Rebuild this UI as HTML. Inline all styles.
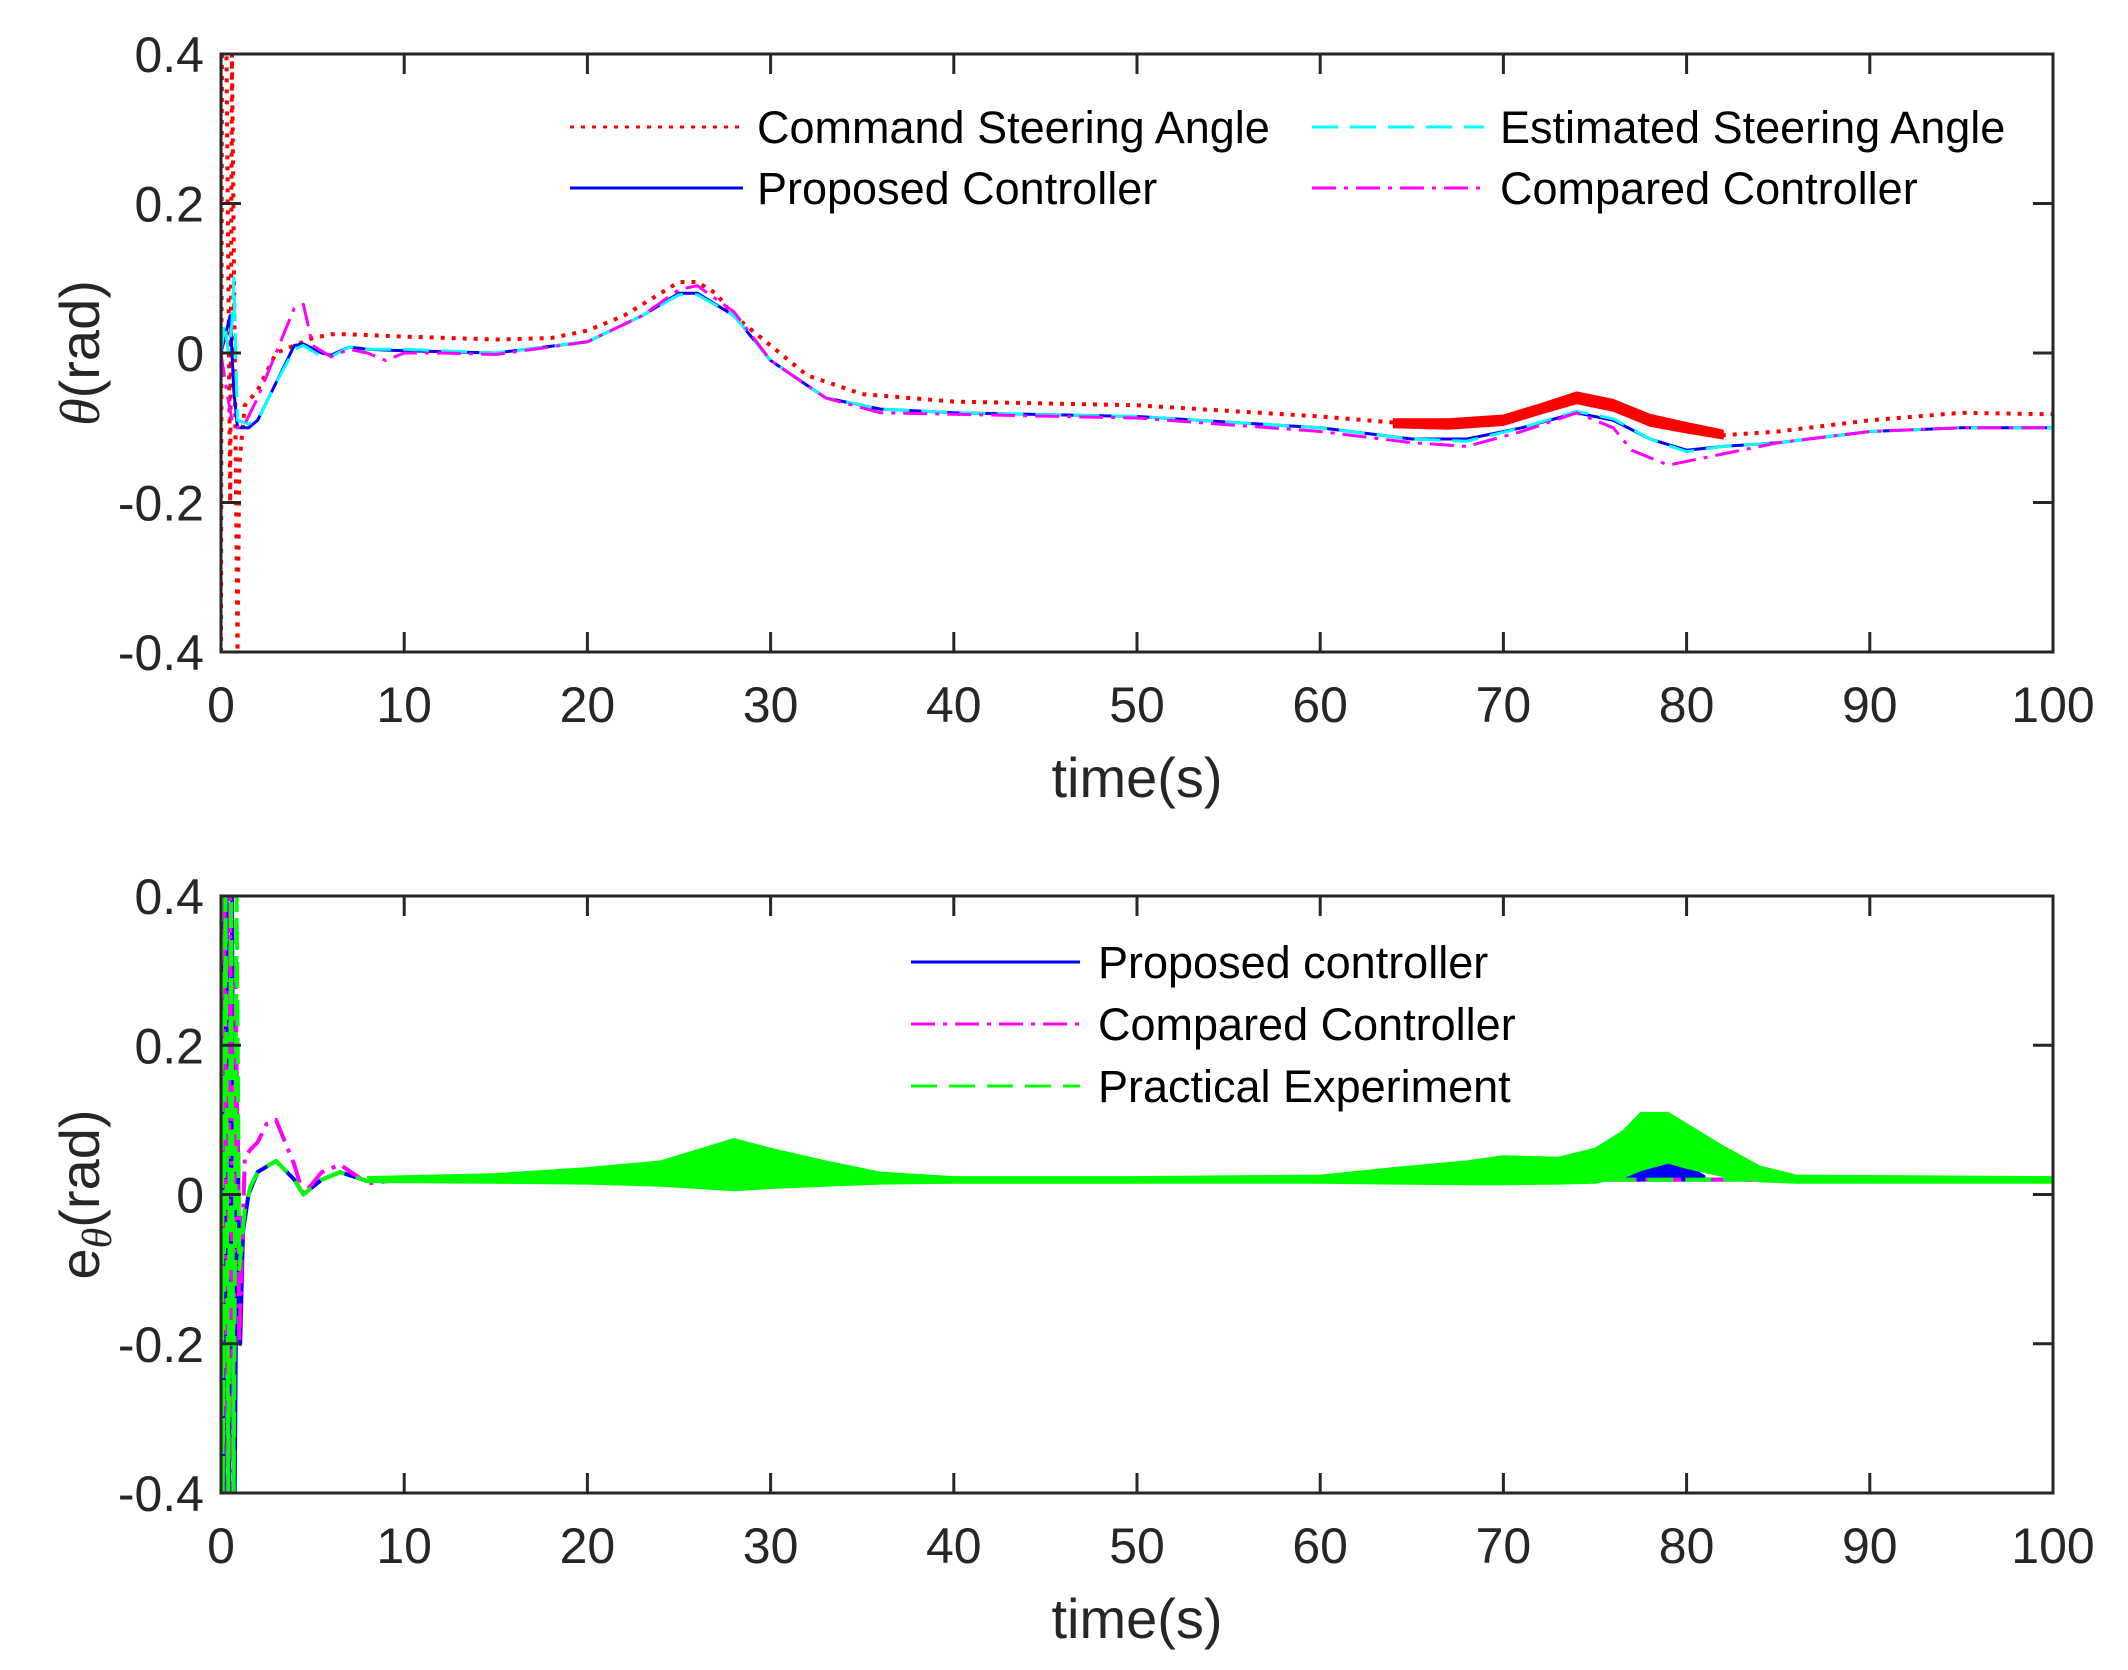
<!DOCTYPE html>
<html><head><meta charset="utf-8"><style>
html,body{margin:0;padding:0;background:#fff;}
svg{display:block;font-family:"Liberation Sans",sans-serif;}
</style></head><body>
<svg id="fig" width="2128" height="1670" viewBox="0 0 2128 1670" xmlns="http://www.w3.org/2000/svg">
<defs>
<clipPath id="clipTop"><rect x="221" y="54" width="1832" height="598"/></clipPath>
<clipPath id="clipBot"><rect x="221" y="896" width="1832" height="597"/></clipPath>
</defs>
<g id="top"></g>
<g id="bot"></g>
</svg>
<script>
// ---- data: top chart ----
const xTicks = [0,10,20,30,40,50,60,70,80,90,100];
const yTicks = [-0.4,-0.2,0,0.2,0.4];
const yTickLabels = ["-0.4","-0.2","0","0.2","0.4"];
const cmdT = [0,0.05,0.3,0.5,0.6,0.9,1.0,1.3,2,3,4,5,6,7,10,15,18,20,22,24,25,26,27,28,30,32,35,40,50,60,65,70,72,74,76,78,80,82,85,90,95,100];
const cmdV = [-0.4,0.4,0.4,-0.2,0.4,-0.4,-0.15,-0.07,-0.05,0,0.01,0.02,0.025,0.025,0.022,0.018,0.02,0.03,0.05,0.08,0.095,0.095,0.08,0.05,0.01,-0.03,-0.055,-0.065,-0.07,-0.085,-0.095,-0.09,-0.075,-0.06,-0.07,-0.09,-0.1,-0.11,-0.105,-0.09,-0.08,-0.082];
const cmdBandT = [64,67,70,72,74,76,78,80,82];
const cmdBandHi = [-0.088,-0.088,-0.083,-0.068,-0.052,-0.062,-0.082,-0.093,-0.103];
const cmdBandLo = [-0.1,-0.102,-0.097,-0.082,-0.068,-0.078,-0.098,-0.107,-0.115];
const propT = [0,0.3,0.5,0.7,0.9,1.5,2,3,4,4.5,5.5,6,7,8,10,15,20,23,25,26,28,30,33,36,40,50,60,65,68,71,74,76,78,80,82,85,90,95,100];
const propV = [0,0.03,0.05,-0.05,-0.1,-0.1,-0.09,-0.04,0.01,0.012,0,-0.003,0.008,0.005,0.003,0,0.015,0.05,0.08,0.08,0.05,-0.01,-0.06,-0.075,-0.08,-0.085,-0.1,-0.115,-0.115,-0.1,-0.08,-0.09,-0.115,-0.13,-0.125,-0.12,-0.105,-0.1,-0.1];
const estT = [0,0.2,0.4,0.6,0.7,0.9,1.5,2,3,4,4.5,5.5,6,7,8,10,15,20,23,25,26,28,30,33,36,40,50,60,65,68,71,74,76,78,80,82,85,90,95,100];
const estV = [0,0.04,0.0,0.04,0.1,-0.09,-0.095,-0.09,-0.04,0.005,0.01,-0.005,-0.005,0.008,0.005,0.005,0,0.015,0.05,0.078,0.078,0.05,-0.01,-0.06,-0.075,-0.08,-0.085,-0.1,-0.115,-0.118,-0.1,-0.078,-0.088,-0.115,-0.132,-0.125,-0.12,-0.105,-0.1,-0.1];
const cmpT = [0,0.3,0.6,0.9,1.3,2,3,4,4.5,5,6,7,8,9,10,12,15,20,23,25,26,28,30,33,36,40,50,60,65,68,71,74,76,77,79,82,85,90,95,100];
const cmpV = [0,-0.05,-0.09,-0.1,-0.095,-0.06,0.0,0.06,0.065,0.01,-0.005,0.005,0.0,-0.01,0.0,0.0,-0.002,0.015,0.05,0.085,0.09,0.055,-0.01,-0.06,-0.08,-0.082,-0.087,-0.105,-0.12,-0.125,-0.105,-0.08,-0.1,-0.13,-0.15,-0.135,-0.12,-0.105,-0.1,-0.1];
// ---- data: bottom chart ----
const eBlueT = [0,0.15,0.3,0.45,0.6,0.75,0.9,1.05,1.2,1.5,2,3,4,4.5,5.5,6.5,8,10,100];
const eBlueV = [0.4,-0.4,0.4,-0.4,0.4,-0.4,0.1,-0.2,-0.05,0.0,0.03,0.045,0.02,0.0,0.02,0.03,0.018,0.02,0.02];
const eBlueBandT = [76.5,77.5,79,80,81];
const eBlueBandHi = [0.03,0.04,0.045,0.04,0.025];
const eBlueBandLo = [0.018,0.02,0.022,0.02,0.018];
const eCmpT = [0,0.2,0.35,0.5,0.65,0.8,1.0,1.3,1.6,2,2.5,3,4,4.5,5.5,6.5,8,10,100];
const eCmpV = [-0.4,0.4,-0.4,0.4,-0.4,0.3,-0.2,0.05,0.06,0.07,0.095,0.1,0.04,0.0,0.03,0.04,0.015,0.02,0.02];
const eGrnT = [0,0.1,0.25,0.4,0.55,0.7,0.85,1.0,1.3,1.6,2,3,4,4.5,5.5,6.5,8,10,100];
const eGrnV = [0.4,-0.4,0.4,-0.4,0.4,-0.4,0.4,-0.1,-0.02,0.01,0.03,0.045,0.02,0.0,0.02,0.03,0.018,0.02,0.02];
const eGrnBandT = [8,15,20,24,26,28,30,33,36,40,50,60,64,68,70,73,75,76.5,77.5,79,80,82,84,86,100];
const eGrnBandHi = [0.024,0.028,0.036,0.045,0.06,0.075,0.062,0.045,0.03,0.024,0.024,0.026,0.036,0.045,0.052,0.05,0.062,0.085,0.11,0.11,0.095,0.065,0.038,0.026,0.024];
const eGrnBandLo = [0.016,0.015,0.014,0.011,0.008,0.005,0.008,0.011,0.014,0.015,0.015,0.015,0.014,0.013,0.013,0.014,0.015,0.022,0.032,0.042,0.035,0.024,0.017,0.015,0.015];

const NS = "http://www.w3.org/2000/svg";
const X0=221, X1=2053;
function xS(t){return X0+(t/100)*(X1-X0);}
function mkY(top,bot){return v=>(top+bot)/2 - v*(bot-top)/0.8;}
const TT=54, TB=652, BT=896, BB=1493;
const yTop = mkY(TT,TB), yBot = mkY(BT,BB);
function el(tag, attrs, parent){const e=document.createElementNS(NS,tag);for(const k in attrs)e.setAttribute(k,attrs[k]);parent.appendChild(e);return e;}
function pts(T,V,yf){return T.map((t,i)=>xS(t).toFixed(1)+","+yf(V[i]).toFixed(1)).join(" ");}
function band(T,H,L,yf){return pts(T,H,yf)+" "+pts(T.slice().reverse(),L.slice().reverse(),yf);}

function axes(g, top, bot, yf, ylabel){
  const fr = el("rect",{x:X0,y:top,width:X1-X0,height:bot-top,fill:"none",stroke:"#262626","stroke-width":3},g);
  
  
  xTicks.forEach(t=>{
    const x=xS(t);
    const a=el("line",{x1:x,y1:bot,x2:x,y2:bot-20,stroke:"#262626","stroke-width":3},g);
    
    
    const b=el("line",{x1:x,y1:top,x2:x,y2:top+20,stroke:"#262626","stroke-width":3},g);
    
    
    const tx=el("text",{x:x,y:bot+70,"font-size":50,"text-anchor":"middle",fill:"#262626"},g);
    tx.textContent=String(t);
    
    
  });
  yTicks.forEach((v,i)=>{
    const y=yf(v);
    const a=el("line",{x1:X0,y1:y,x2:X0+20,y2:y,stroke:"#262626","stroke-width":3},g);
    
    
    const b=el("line",{x1:X1,y1:y,x2:X1-20,y2:y,stroke:"#262626","stroke-width":3},g);
    
    
    const tx=el("text",{x:204,y:y+18,"font-size":50,"text-anchor":"end",fill:"#262626"},g);
    tx.textContent=yTickLabels[i];
    
    
  });
  const xl=el("text",{x:(X0+X1)/2,y:bot+145,"font-size":56,"text-anchor":"middle",fill:"#262626"},g);
  xl.textContent="time(s)";
  
  
  const cy=(top+bot)/2;
  const yl=el("text",{x:0,y:0,"font-size":56,"text-anchor":"middle",fill:"#262626",transform:"translate(99,"+cy+") rotate(-90)"},g);
  
  
  yl.innerHTML = ylabel;
}
function line(g,T,V,yf,color,dash,w,name){
  const p=el("polyline",{points:pts(T,V,yf),fill:"none",stroke:color,"stroke-width":w||3,"stroke-dasharray":dash||"none","stroke-linejoin":"round"},g);
  
  
  return p;
}
function area(g,T,H,L,yf,color,name){
  const p=el("polygon",{points:band(T,H,L,yf),fill:color,stroke:color,"stroke-width":1},g);
  
  
}
function legend(g,x1,x2,y,color,dash,label,tx){
  const l=el("line",{x1:x1,y1:y,x2:x2,y2:y,stroke:color,"stroke-width":3,"stroke-dasharray":dash},g);
  
  
  const t=el("text",{x:tx,y:y+16,"font-size":45,fill:"#000"},g);
  t.textContent=label;
  
  
}

// top chart
const gT=document.getElementById("top");
const dT=el("g",{"clip-path":"url(#clipTop)"},gT);


area(dT,cmdBandT,cmdBandHi,cmdBandLo,yTop,"#ff0000","command-noise-band");
line(dT,cmdT,cmdV,yTop,"#ff0000","4,7",4,"command-steering-line");
line(dT,propT,propV,yTop,"#0000ff","none",3,"proposed-controller-line");
line(dT,estT,estV,yTop,"#00ffff","26,12",3,"estimated-steering-line");
line(dT,cmpT,cmpV,yTop,"#ff00ff","24,8,4,8",3,"compared-controller-line");
axes(gT,TT,TB,yTop,'<tspan font-style="italic" font-family="Liberation Serif">θ</tspan>(rad)');
const lgT=el("g",{},gT);


legend(lgT,570,743,127,"#ff0000","4,7","Command Steering Angle",757);
legend(lgT,570,743,188,"#0000ff","none","Proposed Controller",757);
legend(lgT,1312,1484,127,"#00ffff","26,12","Estimated Steering Angle",1500);
legend(lgT,1312,1484,188,"#ff00ff","24,8,4,8","Compared Controller",1500);

// bottom chart
const gB=document.getElementById("bot");
const dB=el("g",{"clip-path":"url(#clipBot)"},gB);


line(dB,eBlueT,eBlueV,yBot,"#0000ff","none",4,"proposed-error-line");
area(dB,eBlueBandT,eBlueBandHi,eBlueBandLo,yBot,"#0000ff","proposed-error-band");
line(dB,eCmpT,eCmpV,yBot,"#ff00ff","24,8,4,8",4,"compared-error-line");
area(dB,eGrnBandT,eGrnBandHi,eGrnBandLo,yBot,"#00ff00","experiment-noise-band");
line(dB,eGrnT,eGrnV,yBot,"#00ff00","26,12",4,"experiment-error-line");
axes(gB,BT,BB,yBot,'e<tspan font-style="italic" font-family="Liberation Serif" font-size="42" dy="12">θ</tspan><tspan dy="-12">(rad)</tspan>');
const lgB=el("g",{},gB);


legend(lgB,911,1080,962,"#0000ff","none","Proposed controller",1098);
legend(lgB,911,1080,1024,"#ff00ff","24,8,4,8","Compared Controller",1098);
legend(lgB,911,1080,1086,"#00ff00","26,12","Practical Experiment",1098);
</script>
</body></html>
